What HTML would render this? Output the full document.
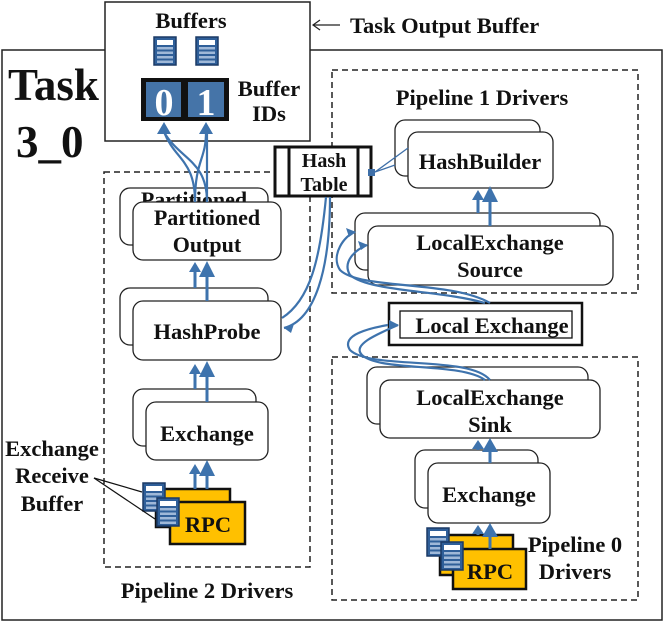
<!DOCTYPE html>
<html><head><style>
body{margin:0;background:#fff}
svg{display:block}
text{font-family:"Liberation Serif",serif;font-weight:bold;fill:#111}
</style></head><body>
<svg width="664" height="623" viewBox="0 0 664 623">
<defs>
<g id="buf">
<rect x="0" y="0" width="22" height="28" fill="#2f5f99" stroke="#1b3a66" stroke-width="1.5"/>
<rect x="3" y="3" width="16" height="5" fill="#fff"/>
<rect x="3" y="10" width="16" height="2.5" fill="#9fb8d8"/>
<rect x="3" y="14.5" width="16" height="2.5" fill="#9fb8d8"/>
<rect x="3" y="19" width="16" height="2.5" fill="#9fb8d8"/>
<rect x="3" y="23.5" width="16" height="2.5" fill="#9fb8d8"/>
</g>
</defs>
<rect x="2" y="50" width="660" height="570" fill="#fff" stroke="#222" stroke-width="1.5"/>
<text x="8" y="100" font-size="45">Task</text>
<text x="16" y="157" font-size="45">3_0</text>
<rect x="105" y="2" width="205" height="139" fill="#fff" stroke="#222" stroke-width="1.5"/>
<text x="191" y="28" font-size="22.5" text-anchor="middle">Buffers</text>
<use href="#buf" x="154" y="37"/>
<use href="#buf" x="196" y="37"/>
<rect x="141" y="78" width="88" height="43" fill="#111"/>
<rect x="146" y="82" width="35" height="35" fill="#4574a8"/>
<rect x="188" y="82" width="36" height="35" fill="#4574a8"/>
<text x="164" y="115" font-size="38" text-anchor="middle" style="fill:#fff">0</text>
<text x="206" y="115" font-size="38" text-anchor="middle" style="fill:#fff">1</text>
<text x="269" y="96" font-size="22.5" text-anchor="middle">Buffer</text>
<text x="269" y="121" font-size="22.5" text-anchor="middle">IDs</text>
<line x1="340" y1="25" x2="313" y2="25" stroke="#222" stroke-width="1.2"/>
<polyline points="320,20 313,25 320,30" fill="none" stroke="#222" stroke-width="1.2"/>
<text x="350" y="33" font-size="22.5">Task Output Buffer</text>

<rect x="104" y="172" width="206" height="395" fill="none" stroke="#222" stroke-width="1.5" stroke-dasharray="6,4"/>
<text x="207" y="598" font-size="22.5" text-anchor="middle">Pipeline 2 Drivers</text>
<rect x="332" y="70" width="306" height="223" fill="none" stroke="#222" stroke-width="1.5" stroke-dasharray="6,4"/>
<text x="482" y="105" font-size="22.5" text-anchor="middle">Pipeline 1 Drivers</text>
<rect x="332" y="357" width="306" height="243" fill="none" stroke="#222" stroke-width="1.5" stroke-dasharray="6,4"/>

<g fill="#fff" stroke="#222" stroke-width="1.3">
<rect x="120" y="188" width="148" height="57" rx="10"/>
<text x="194" y="207" font-size="22" text-anchor="middle" stroke="none" style="fill:#111">Partitioned</text>
<rect x="133" y="202" width="148" height="58" rx="10"/>
<rect x="120" y="288" width="148" height="57" rx="10"/>
<rect x="133" y="301" width="148" height="59" rx="10"/>
<rect x="133" y="389" width="123" height="57" rx="10"/>
<rect x="146" y="402" width="122" height="58" rx="10"/>
<rect x="395" y="120" width="145" height="56" rx="10"/>
<rect x="408" y="132" width="145" height="56" rx="10"/>
<rect x="355" y="213" width="245" height="57" rx="10"/>
<rect x="368" y="226" width="245" height="59" rx="10"/>
<rect x="367" y="367" width="221" height="57" rx="10"/>
<rect x="380" y="380" width="220" height="58" rx="10"/>
<rect x="415" y="450" width="123" height="58" rx="10"/>
<rect x="428" y="463" width="122" height="60" rx="10"/>
</g>
<text x="207" y="225" font-size="22" text-anchor="middle">Partitioned</text>
<text x="207" y="252" font-size="22" text-anchor="middle">Output</text>
<text x="207" y="339" font-size="22.5" text-anchor="middle">HashProbe</text>
<text x="207" y="441" font-size="22.5" text-anchor="middle">Exchange</text>
<text x="480" y="169" font-size="22.5" text-anchor="middle">HashBuilder</text>
<text x="490" y="250" font-size="22.5" text-anchor="middle">LocalExchange</text>
<text x="490" y="277" font-size="22.5" text-anchor="middle">Source</text>
<text x="490" y="405" font-size="22.5" text-anchor="middle">LocalExchange</text>
<text x="490" y="432" font-size="22.5" text-anchor="middle">Sink</text>
<text x="489" y="502" font-size="22.5" text-anchor="middle">Exchange</text>

<g fill="#ffc000" stroke="#111" stroke-width="2.5">
<rect x="156" y="489" width="74" height="38"/>
<rect x="170" y="502" width="75" height="42"/>
<rect x="440" y="535" width="73" height="40"/>
<rect x="453" y="549" width="73" height="40"/>
</g>
<text x="208" y="532" font-size="22.5" text-anchor="middle">RPC</text>
<text x="490" y="579" font-size="22.5" text-anchor="middle">RPC</text>
<use href="#buf" x="143" y="483"/>
<use href="#buf" x="157" y="498"/>
<use href="#buf" x="427" y="528"/>
<use href="#buf" x="441" y="542"/>
<text x="52" y="456" font-size="22.5" text-anchor="middle">Exchange</text>
<text x="52" y="483" font-size="22.5" text-anchor="middle">Receive</text>
<text x="52" y="511" font-size="22.5" text-anchor="middle">Buffer</text>
<g stroke="#111" stroke-width="1.2" fill="none">
<line x1="94" y1="478" x2="142" y2="492"/>
<line x1="94" y1="478" x2="155" y2="519"/>
</g>
<text x="575" y="552" font-size="22.5" text-anchor="middle">Pipeline 0</text>
<text x="575" y="579" font-size="22.5" text-anchor="middle">Drivers</text>

<rect x="275" y="147" width="96" height="49" fill="#fff" stroke="#111" stroke-width="3"/>
<line x1="289" y1="147" x2="289" y2="196" stroke="#111" stroke-width="3"/>
<line x1="358" y1="147" x2="358" y2="196" stroke="#111" stroke-width="3"/>
<text x="324" y="167" font-size="20" text-anchor="middle">Hash</text>
<text x="324" y="191" font-size="20" text-anchor="middle">Table</text>
<rect x="368" y="169" width="7" height="7" fill="#3e6fa8"/>
<line x1="375" y1="172" x2="408" y2="148" stroke="#3e6fa8" stroke-width="1.3"/>
<line x1="375" y1="172" x2="395" y2="165" stroke="#3e6fa8" stroke-width="1.3"/>

<rect x="389" y="303" width="193" height="42" fill="#fff" stroke="#111" stroke-width="2.5"/>
<rect x="400" y="311" width="172" height="27" fill="none" stroke="#111" stroke-width="1.3"/>
<text x="492" y="333" font-size="22.5" text-anchor="middle">Local Exchange</text>

<g stroke="#3e73ad" fill="none" stroke-width="3">
<line x1="195" y1="288" x2="195" y2="270"/><line x1="207" y1="301" x2="207" y2="275"/>
<line x1="195" y1="389" x2="195" y2="372"/><line x1="207" y1="402" x2="207" y2="375"/>
<line x1="195" y1="489" x2="195" y2="472"/><line x1="207" y1="489" x2="207" y2="474"/>
<line x1="478" y1="213" x2="478" y2="198"/><line x1="490" y1="226" x2="490" y2="200"/>
<line x1="478" y1="450" x2="478" y2="448"/><line x1="490" y1="463" x2="490" y2="450"/>
<line x1="478" y1="535" x2="478" y2="532"/><line x1="490" y1="549" x2="490" y2="535"/>
</g>
<g fill="#3e73ad">
<path d="M189,272 l6,-10 l6,10z M199,277 l8,-16 l8,16z"/>
<path d="M189,374 l6,-10 l6,10z M199,377 l8,-16 l8,16z"/>
<path d="M189,474 l6,-10 l6,10z M199,476 l8,-16 l8,16z"/>
<path d="M472,200 l6,-10 l6,10z M482,202 l8,-16 l8,16z"/>
<path d="M472,449 l6,-9 l6,9z M482,452 l8,-14 l8,14z"/>
<path d="M472,534 l6,-9 l6,9z M482,537 l8,-14 l8,14z"/>
<path d="M157,134 l7,-12 l7,12z M199,134 l7,-12 l7,12z"/>
</g>
<g stroke="#3e73ad" fill="none" stroke-width="2.2">
<path d="M195,202 C195,160 175,160 164,132"/>
<path d="M207,202 C207,160 180,160 164,132"/>
<path d="M195,202 C195,160 206,160 206,132"/>
<path d="M207,202 L207,132"/>
<path d="M326,197 C320,260 310,300 282,318"/>
<path d="M330,197 C330,270 315,320 284,328"/>
<path d="M490,303 C450,280 360,290 340,270 C330,255 345,235 355,232" />
<path d="M485,303 C440,290 370,292 350,275 C342,262 355,250 367,245" />
<path d="M490,380 C470,355 370,370 350,350 C340,335 370,328 388,325"/>
<path d="M485,380 C460,362 380,372 362,355 C352,345 375,335 398,325"/>
</g>
<g fill="#3e73ad">
<path d="M356,232 l-10,-4 l3,9z"/>
<path d="M368,245 l-10,-4 l3,9z"/>
<path d="M399,325 l-10,-5 l0,10z"/>
<path d="M284,328 l10,-4 l-3,9z"/>
</g>
</svg>
</body></html>
